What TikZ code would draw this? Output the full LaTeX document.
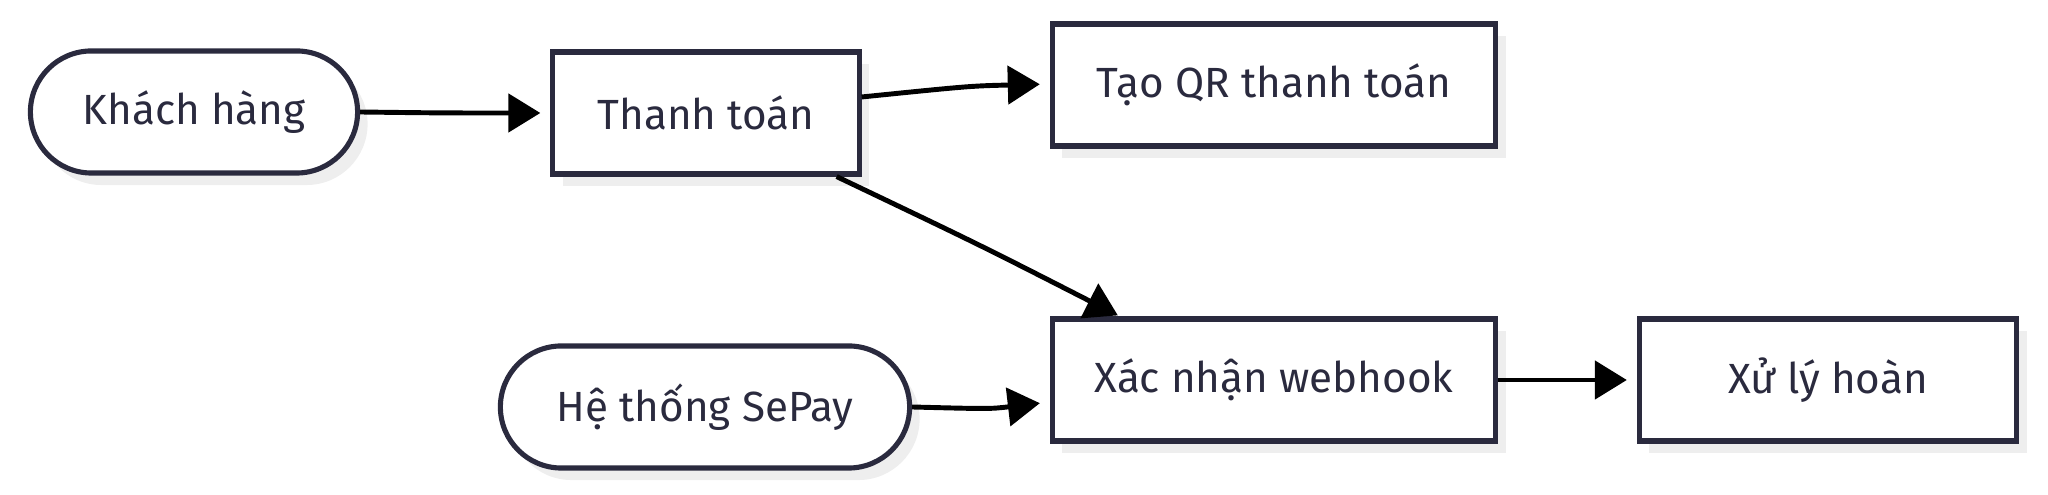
\documentclass[tikz,border=0pt]{standalone}
\usepackage{fontspec}
\setmainfont{Fira Sans}
\usetikzlibrary{positioning}
\usetikzlibrary{shadows}
\usetikzlibrary{arrows.meta}
\definecolor{inkline}{HTML}{2A2A3E}
\definecolor{shade}{HTML}{EEEEEE}

\begin{document}
\begin{tikzpicture}
	[x=0.01cm, y=-0.01cm,
	box/.style={rectangle, draw=inkline, line width=1.45pt, fill=white, text=inkline, font=\fontsize{12}{14}\selectfont, minimum height=1.22cm, drop shadow={shadow xshift=0.1cm, shadow yshift=-0.12cm, fill=shade, opacity=1}},
	actor/.style={box, rounded corners=0.61cm},
	flow/.style={-{Triangle[length=0.32cm,width=0.38cm]}, line width=1.4pt, black}]

\useasboundingbox (0,0) rectangle (2048,495);
\node [actor, minimum width=3.27cm] (khach) at (194,112) {Khách hàng};
\node [box, minimum width=3.06cm] (thanhtoan) at (706,113) {Thanh toán};
\node [box, minimum width=4.43cm] (taoqr) at (1274,85) {Tạo QR thanh toán};
\node [actor, minimum width=4.09cm] (sepay) at (705,407) {Hệ thống SePay};
\node [box, minimum width=4.43cm] (webhook) at (1274,380) {Xác nhận webhook};
\node [box, minimum width=3.77cm] (hoan) at (1828,380) {Xử lý hoàn};

\draw [flow, shorten >=0.1cm] (khach.east) .. controls (440,113) .. (thanhtoan.west);
\draw [flow, shorten >=0.1cm] ([yshift=0.16cm]thanhtoan.east) .. controls (970,86) .. ([yshift=0.01cm]taoqr.west);
\draw [flow] ([xshift=-0.25cm]thanhtoan.south east) .. controls (980,245) .. ([xshift=0.68cm,yshift=0.01cm]webhook.north west);
\draw [flow, shorten >=0.1cm] (sepay.east) .. controls (990,409) .. ([yshift=-0.22cm]webhook.west);
\draw [flow, shorten >=0.1cm] (webhook.east) -- (hoan.west);

\end{tikzpicture}
\end{document}
